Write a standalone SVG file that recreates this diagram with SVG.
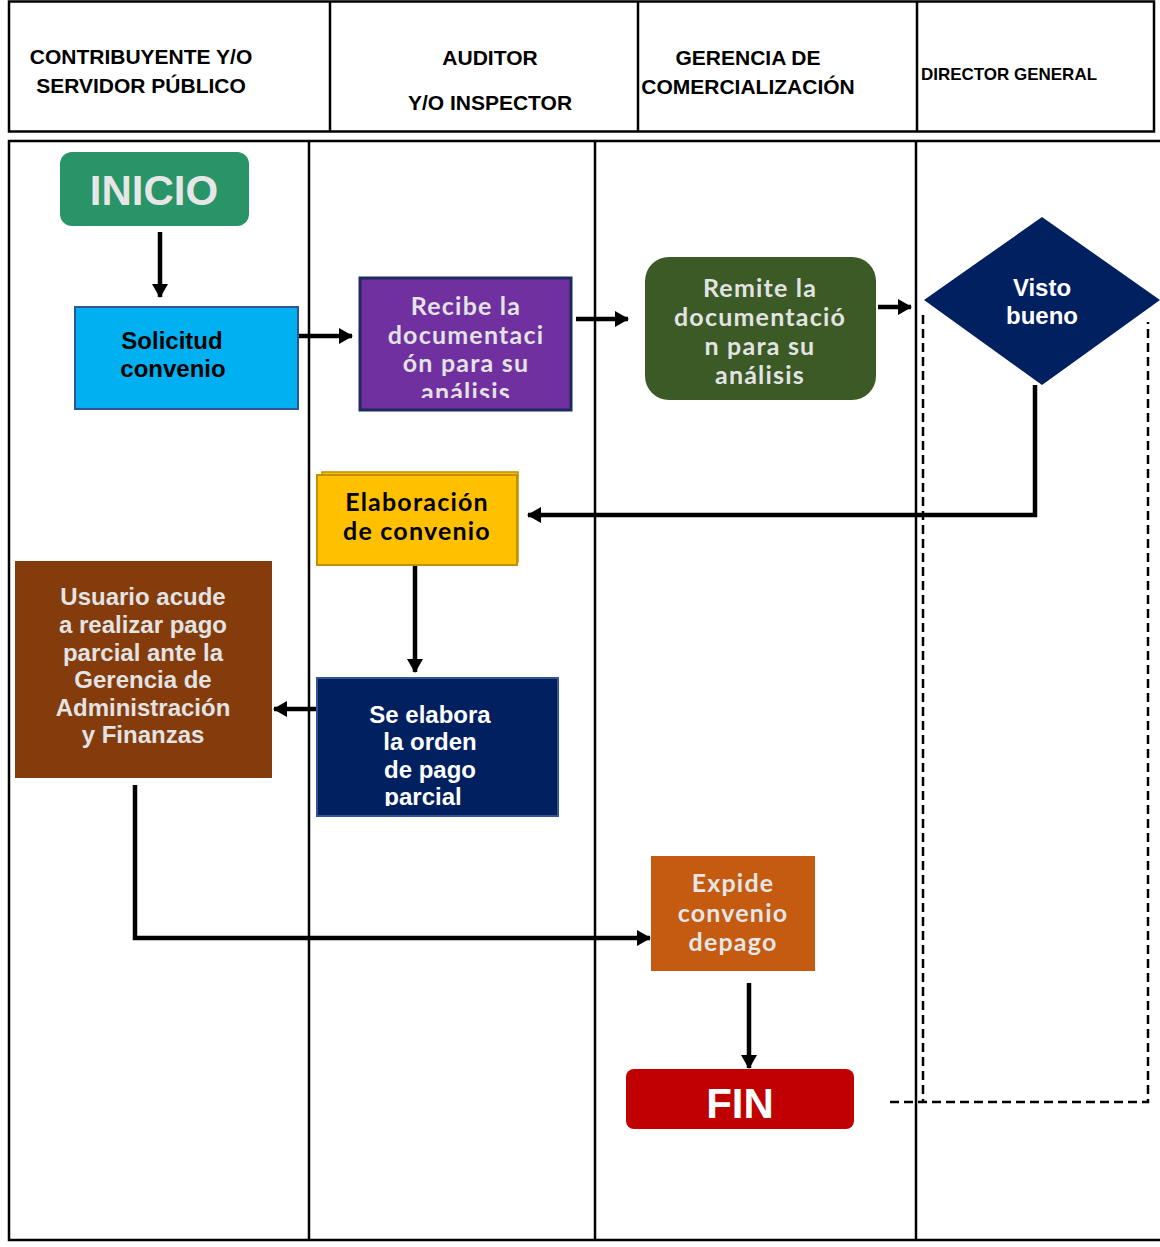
<svg xmlns="http://www.w3.org/2000/svg" width="1160" height="1247" viewBox="0 0 1160 1247">
  <style>
    .lane { fill: none; stroke: #000; stroke-width: 2.5; }
    .hdr { font-family: "Liberation Sans", Arial, sans-serif; font-weight: bold; font-size: 21px; fill: #000; text-anchor: middle; }
    .ar { font-family: "Liberation Sans", Arial, sans-serif; font-weight: bold; font-size: 24px; text-anchor: middle; }
    .geo { font-family: Lato, "Open Sans", sans-serif; font-weight: bold; font-size: 25px; text-anchor: middle; letter-spacing: 1.2px; }
    .conn { fill: none; stroke: #000; stroke-width: 4.5; }
    .dash { fill: none; stroke: #000; stroke-width: 2.5; stroke-dasharray: 9 5; }
  </style>
  <defs>
    <marker id="arrow" markerUnits="userSpaceOnUse" markerWidth="14" markerHeight="16" refX="13" refY="8" orient="auto">
      <path d="M0,0 L14,8 L0,16 z" fill="#000"/>
    </marker>
    <clipPath id="clipRecibe"><rect x="362" y="280" width="207" height="118"/></clipPath>
    <clipPath id="clipElabora"><rect x="318" y="679" width="239" height="127"/></clipPath>
  </defs>

  <rect width="1160" height="1247" fill="#fff"/>

  <!-- header lanes -->
  <g id="header">
    <rect class="lane" x="9" y="1.5" width="1145" height="130"/>
    <line class="lane" x1="330" y1="1.5" x2="330" y2="131.5"/>
    <line class="lane" x1="638" y1="1.5" x2="638" y2="131.5"/>
    <line class="lane" x1="917" y1="1.5" x2="917" y2="131.5"/>
    <text class="hdr" x="141" y="64">CONTRIBUYENTE Y/O</text>
    <text class="hdr" x="141" y="93">SERVIDOR PÚBLICO</text>
    <text class="hdr" x="490" y="65">AUDITOR</text>
    <text class="hdr" x="490" y="110">Y/O INSPECTOR</text>
    <text class="hdr" x="748" y="65">GERENCIA DE</text>
    <text class="hdr" x="748" y="94">COMERCIALIZACIÓN</text>
    <text class="hdr" x="921" y="80" style="text-anchor:start;font-size:17px" textLength="176" lengthAdjust="spacingAndGlyphs">DIRECTOR GENERAL</text>
  </g>

  <!-- body lanes -->
  <g id="lanes">
    <polyline class="lane" points="1160,141 9,141 9,1240 1160,1240"/>
    <line class="lane" x1="309" y1="141" x2="309" y2="1240"/>
    <line class="lane" x1="595" y1="141" x2="595" y2="1240"/>
    <line class="lane" x1="916" y1="141" x2="916" y2="1240"/>
  </g>

  <!-- connectors -->
  <g id="connectors">
    <line class="conn" x1="160" y1="232" x2="160" y2="297" marker-end="url(#arrow)"/>
    <line class="conn" x1="299" y1="336" x2="352" y2="336" marker-end="url(#arrow)"/>
    <line class="conn" x1="576" y1="319" x2="628" y2="319" marker-end="url(#arrow)"/>
    <line class="conn" x1="878" y1="307" x2="911" y2="307" marker-end="url(#arrow)"/>
    <polyline class="conn" points="1035,385 1035,515 528,515" marker-end="url(#arrow)"/>
    <line class="conn" x1="415" y1="565" x2="415" y2="672" marker-end="url(#arrow)"/>
    <line class="conn" x1="316" y1="709" x2="274" y2="709" marker-end="url(#arrow)"/>
    <polyline class="conn" points="135,785 135,938 650,938" marker-end="url(#arrow)"/>
    <line class="conn" x1="749" y1="983" x2="749" y2="1068" marker-end="url(#arrow)"/>
    <polyline class="dash" points="923,315 923,1102"/>
    <polyline class="dash" points="890,1102 1148,1102 1148,322"/>
  </g>

  <g id="inicio">
    <rect x="60" y="152" width="189" height="74" rx="12" fill="#289467"/>
    <text x="154" y="205" style="font-family:'Liberation Sans',Arial,sans-serif;font-weight:bold;font-size:42px;fill:#e6e6e6;text-anchor:middle">INICIO</text>
  </g>

  <g id="solicitud">
    <rect x="75" y="307" width="223" height="102" fill="#00B0F0" stroke="#2F5597" stroke-width="2"/>
    <text class="ar" x="172" y="349" fill="#000">Solicitud</text>
    <text class="ar" x="173" y="377" fill="#000">convenio</text>
  </g>

  <g id="recibe">
    <rect x="360" y="278" width="211" height="132" fill="#7030A0" stroke="#1F2A5E" stroke-width="3"/>
    <g clip-path="url(#clipRecibe)" fill="#e3e3e3">
      <text class="geo" x="466" y="315">Recibe la</text>
      <text class="geo" x="466" y="344">documentaci</text>
      <text class="geo" x="466" y="372">ón para su</text>
      <text class="geo" x="466" y="401">análisis</text>
    </g>
  </g>

  <g id="remite">
    <rect x="645" y="257" width="231" height="143" rx="24" fill="#3B5A26"/>
    <g fill="#e3e3e3">
      <text class="geo" x="760" y="297">Remite la</text>
      <text class="geo" x="760" y="326">documentació</text>
      <text class="geo" x="760" y="355">n para su</text>
      <text class="geo" x="760" y="384">análisis</text>
    </g>
  </g>

  <g id="visto-bueno">
    <polygon points="924,300 1042,217 1160,300 1042,385" fill="#002060"/>
    <text class="ar" x="1042" y="296" fill="#fff">Visto</text>
    <text class="ar" x="1042" y="324" fill="#fff">bueno</text>
  </g>

  <g id="elaboracion">
    <rect x="322" y="472" width="196" height="90" fill="#FFC000" stroke="#BF9000" stroke-width="1.5"/>
    <rect x="317" y="475" width="200" height="90" fill="#FFC000" stroke="#BF9000" stroke-width="2"/>
    <text class="geo" x="417" y="511" fill="#000">Elaboración</text>
    <text class="geo" x="417" y="540" fill="#000">de convenio</text>
  </g>

  <g id="orden-pago">
    <rect x="317" y="678" width="241" height="138" fill="#002060" stroke="#2F5597" stroke-width="2"/>
    <g clip-path="url(#clipElabora)" fill="#fff">
      <text class="ar" x="430" y="723">Se elabora</text>
      <text class="ar" x="430" y="750">la orden</text>
      <text class="ar" x="430" y="778">de pago</text>
      <text class="ar" x="423" y="805">parcial</text>
    </g>
  </g>

  <g id="usuario">
    <rect x="15" y="561" width="257" height="217" fill="#843C0C"/>
    <g fill="#e3e3e3">
      <text class="ar" x="143" y="605">Usuario acude</text>
      <text class="ar" x="143" y="633">a realizar pago</text>
      <text class="ar" x="143" y="661">parcial ante la</text>
      <text class="ar" x="143" y="688">Gerencia de</text>
      <text class="ar" x="143" y="716">Administración</text>
      <text class="ar" x="143" y="743">y Finanzas</text>
    </g>
  </g>

  <g id="expide">
    <rect x="651" y="856" width="164" height="115" fill="#C55A11"/>
    <g fill="#e6e6e6">
      <text class="geo" x="733" y="892">Expide</text>
      <text class="geo" x="733" y="922">convenio</text>
      <text class="geo" x="733" y="951">depago</text>
    </g>
  </g>

  <g id="fin">
    <rect x="626" y="1069" width="228" height="60" rx="8" fill="#C00000"/>
    <text x="740" y="1118" style="font-family:'Liberation Sans',Arial,sans-serif;font-weight:bold;font-size:42px;fill:#fff;text-anchor:middle">FIN</text>
  </g>
</svg>
